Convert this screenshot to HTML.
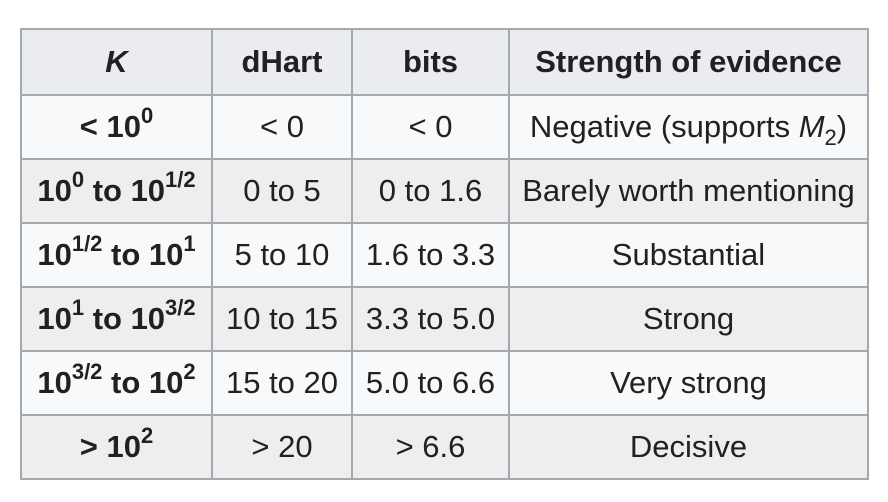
<!DOCTYPE html>
<html><head><meta charset="utf-8"><style>
html,body{margin:0;padding:0;background:#fff;width:888px;height:502px;overflow:hidden}
table{position:absolute;left:20px;top:28px;border-collapse:collapse;font-family:"Liberation Sans",Arial,sans-serif;font-size:31px;color:#202122;background:#f8f9fa;table-layout:fixed}
td,th{border:2px solid #a2a9b1;text-align:center;padding:0;height:62px;white-space:nowrap;overflow:visible}
th{font-weight:bold}
thead th{background:#eaecf0;height:64px}
tr.alt td,tr.alt th{background:#eeeeee}
sup{font-size:22px;vertical-align:0;position:relative;top:-14px;line-height:0}
sub{font-size:22px;vertical-align:0;position:relative;top:8px;line-height:0}
</style></head><body>
<table>
<colgroup><col style="width:191px"><col style="width:140px"><col style="width:157px"><col style="width:359px"></colgroup>
<thead><tr>
<th><i>K</i></th>
<th>dHart</th>
<th>bits</th>
<th>Strength of evidence</th></tr></thead>
<tbody>
<tr><th>&lt; 10<sup>0</sup></th><td>&lt; 0</td><td>&lt; 0</td><td>Negative (supports <i>M</i><sub>2</sub>)</td></tr>
<tr class="alt"><th>10<sup>0</sup> to 10<sup>1/2</sup></th><td>0 to 5</td><td>0 to 1.6</td><td>Barely worth mentioning</td></tr>
<tr><th>10<sup>1/2</sup> to 10<sup>1</sup></th><td>5 to 10</td><td>1.6 to 3.3</td><td>Substantial</td></tr>
<tr class="alt"><th>10<sup>1</sup> to 10<sup>3/2</sup></th><td>10 to 15</td><td>3.3 to 5.0</td><td>Strong</td></tr>
<tr><th>10<sup>3/2</sup> to 10<sup>2</sup></th><td>15 to 20</td><td>5.0 to 6.6</td><td>Very strong</td></tr>
<tr class="alt"><th>&gt; 10<sup>2</sup></th><td>&gt; 20</td><td>&gt; 6.6</td><td>Decisive</td></tr>
</tbody></table>
</body></html>
